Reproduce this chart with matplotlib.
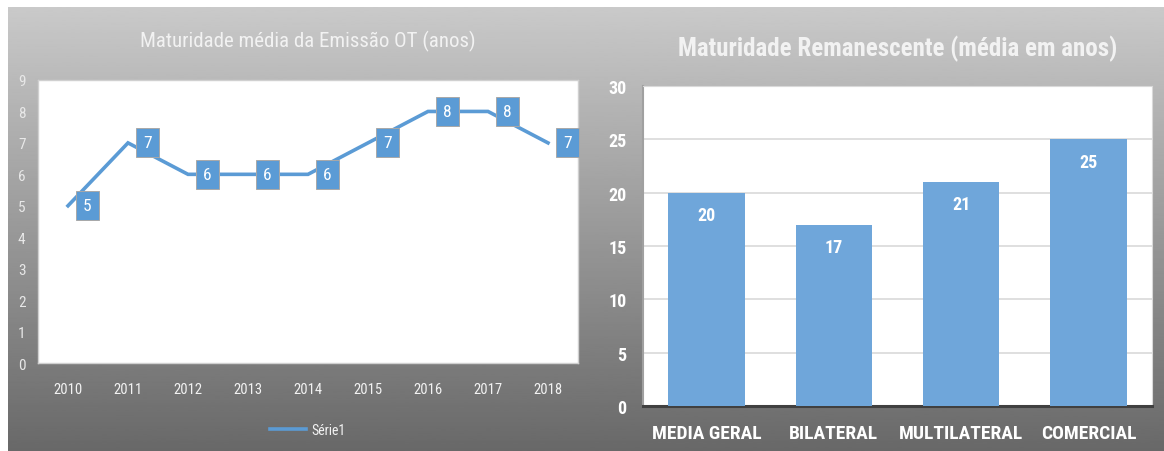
import numpy as np
import matplotlib.pyplot as plt
from matplotlib import font_manager

# left chart: average maturity of OT issues
years = ["2010", "2011", "2012", "2013", "2014", "2015", "2016", "2017", "2018"]
maturity = [5, 7, 6, 6, 6, 7, 8, 8, 7]

# right chart: remaining maturity by creditor type
groups = ["MEDIA GERAL", "BILATERAL", "MULTILATERAL", "COMERCIAL"]
remaining = [20, 17, 21, 25]

W, H = 1164, 452
LINE_BLUE = "#5B9BD5"
BAR_BLUE = "#6FA6DA"
LIGHT = "#F2F2F2"

# look for a narrow face like Calibri; fall back to condensed DejaVu
fonts = font_manager.fontManager.ttflist
names = {f.name for f in fonts}
FONT = {"family": "DejaVu Sans", "stretch": "condensed"}
for cand in ["Liberation Sans Narrow", "Roboto Condensed", "Open Sans Condensed"]:
    if cand in names:
        FONT = {"family": cand, "stretch": "normal"}
        break
has_cond = any(f.name == "DejaVu Sans" and f.stretch == "condensed" for f in fonts)
SCALE = 1.0 if (FONT["family"] != "DejaVu Sans" or has_cond) else 0.88


def fs(size):
    return size * SCALE


def px_axes(fig, x0, y0, x1, y1):
    # rectangle given in pixels from the top-left corner
    return fig.add_axes([x0 / W, 1 - y1 / H, (x1 - x0) / W, (y1 - y0) / H])


fig = plt.figure(figsize=(W / 100, H / 100), dpi=100)
fig.patch.set_facecolor("white")

# grey gradient behind both charts
bg = px_axes(fig, 8, 8, W, H)
grad = np.linspace(0.79, 0.41, 256).reshape(-1, 1)
bg.imshow(grad, cmap="gray", vmin=0, vmax=1, aspect="auto")
bg.axis("off")

# ---- left: line chart ----
ax1 = px_axes(fig, 38, 81, 578, 364)
ax1.set_facecolor("white")
x = np.arange(len(years))
ax1.plot(x, maturity, color=LINE_BLUE, lw=2.6, label="Série1", solid_joinstyle="miter")
for xi, v in zip(x, maturity):
    ax1.annotate(str(v), (xi, v), xytext=(14, 0), textcoords="offset points",
                 ha="center", va="center", color="white", fontsize=fs(12.5),
                 fontfamily=FONT["family"], fontstretch=FONT["stretch"],
                 bbox=dict(boxstyle="square,pad=0.4", fc=LINE_BLUE, ec="#a8a8a8", lw=0.7))
ax1.set_xlim(-0.5, len(years) - 0.5)
ax1.set_ylim(0, 9)
ax1.set_yticks(range(0, 10))
ax1.set_xticks(x)
ax1.set_xticklabels(years)
ax1.tick_params(length=0, colors="#E8E8E8", labelsize=fs(11))
ax1.tick_params(axis="y", pad=9)
ax1.tick_params(axis="x", pad=14, colors=LIGHT, labelsize=fs(10.5))
for lab in ax1.get_xticklabels() + ax1.get_yticklabels():
    lab.set_family(FONT["family"])
    lab.set_stretch(FONT["stretch"])
for s in ax1.spines.values():
    s.set_color("#d0d0d0")
    s.set_linewidth(1.0)
ax1.set_title("Maturidade média da Emissão OT (anos)", color=LIGHT, fontsize=fs(15),
              fontfamily=FONT["family"], fontstretch=FONT["stretch"], pad=24)
leg = ax1.legend(loc="center", bbox_to_anchor=(0.5, -0.235), frameon=False,
                 handlelength=2.6, handletextpad=0.4,
                 prop={"family": FONT["family"], "stretch": FONT["stretch"], "size": fs(10)})
for t in leg.get_texts():
    t.set_color(LIGHT)

# ---- right: bar chart ----
ax2 = px_axes(fig, 643, 87, 1152, 407)
ax2.set_facecolor("white")
xb = np.arange(len(groups))
bars = ax2.bar(xb, remaining, width=0.6, color=BAR_BLUE, zorder=3)
for b, v in zip(bars, remaining):
    ax2.annotate(str(v), (b.get_x() + b.get_width() / 2, v), xytext=(0, -16),
                 textcoords="offset points", ha="center", va="center",
                 color="white", fontsize=fs(13), fontweight="bold",
                 fontfamily=FONT["family"], fontstretch=FONT["stretch"])
ax2.set_xlim(-0.5, len(groups) - 0.5)
ax2.set_ylim(0, 30)
ax2.set_yticks(range(0, 31, 5))
ax2.set_xticks(xb)
ax2.set_xticklabels(groups)
ax2.yaxis.grid(True, color="#d9d9d9", lw=1.2, zorder=0)
ax2.set_axisbelow(True)
ax2.tick_params(length=0, colors="white")
ax2.tick_params(axis="y", pad=12, labelsize=fs(13))
ax2.tick_params(axis="x", pad=13, labelsize=fs(14))
for lab in ax2.get_xticklabels() + ax2.get_yticklabels():
    lab.set_family(FONT["family"])
    lab.set_stretch(FONT["stretch"])
    lab.set_fontweight("bold")
for s in ["top", "right"]:
    ax2.spines[s].set_color("#d9d9d9")
ax2.spines["left"].set_color("#a0a0a0")
ax2.spines["left"].set_linewidth(1.5)
ax2.spines["bottom"].set_color("#404040")
ax2.spines["bottom"].set_linewidth(2.2)
ax2.set_title("Maturidade Remanescente (média em anos)", color=LIGHT, fontsize=fs(18),
              fontweight="bold", fontfamily=FONT["family"], fontstretch=FONT["stretch"],
              pad=22)

fig.savefig("out.png", dpi=100, facecolor=fig.get_facecolor())
